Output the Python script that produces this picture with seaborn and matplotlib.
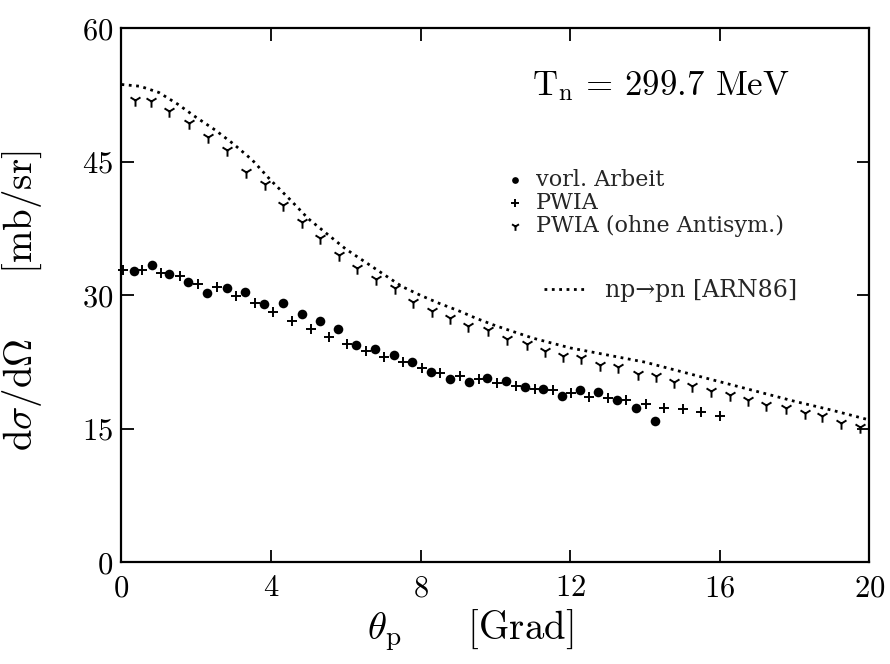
import matplotlib
matplotlib.use("Agg")
import matplotlib.pyplot as plt
import seaborn as sns

# ---- data ----
arbeit_x = [0.34, 0.81, 1.28, 1.79, 2.29, 2.81, 3.30, 3.82, 4.31, 4.82, 5.31, 5.80, 6.27, 6.79,
            7.29, 7.78, 8.28, 8.78, 9.28, 9.78, 10.28, 10.79, 11.28, 11.77, 12.26, 12.75, 13.24,
            13.76, 14.27]
arbeit_y = [32.75, 33.45, 32.35, 31.5, 30.3, 30.8, 30.4, 29.0, 29.2, 27.9, 27.1, 26.2, 24.4, 24.0,
            23.3, 22.5, 21.4, 20.6, 20.3, 20.7, 20.4, 19.7, 19.5, 18.65, 19.4, 19.2, 18.2,
            17.4, 15.85]

pwia_x = [0.03, 0.54, 1.05, 1.56, 2.05, 2.55, 3.06, 3.57, 4.06, 4.55, 5.06, 5.55, 6.04, 6.53,
          7.03, 7.54, 8.04, 8.53, 9.04, 9.55, 10.04, 10.56, 11.06, 11.54, 12.02, 12.51, 13.02,
          13.50, 14.02, 14.51, 15.02, 15.50, 16.0]
pwia_y = [32.9, 32.9, 32.5, 32.2, 31.3, 31.0, 29.9, 29.2, 28.1, 27.1, 26.2, 25.3, 24.5, 23.7,
          23.05, 22.5, 21.8, 21.3, 20.9, 20.6, 20.2, 19.85, 19.5, 19.4, 19.0, 18.6, 18.5,
          18.3, 17.8, 17.4, 17.2, 16.85, 16.5]

ohne_x = [0.36, 0.80, 1.28, 1.81, 2.31, 2.82, 3.33, 3.83, 4.33, 4.83, 5.32, 5.82, 6.31, 6.81,
          7.31, 7.80, 8.29, 8.78, 9.27, 9.81, 10.32, 10.83, 11.33, 11.81, 12.30, 12.80, 13.28,
          13.80, 14.28, 14.77, 15.26, 15.77, 16.26, 16.75, 17.24, 17.78, 18.27, 18.74, 19.25, 19.74]
ohne_y = [52.0, 51.9, 50.7, 49.4, 47.8, 46.35, 43.9, 42.5, 40.2, 38.2, 36.4, 34.5, 33.1, 31.8,
          30.8, 29.3, 28.3, 27.5, 26.6, 26.1, 25.1, 24.55, 23.8, 23.2, 23.0, 22.2, 22.0,
          21.2, 20.9, 20.3, 19.8, 19.3, 18.8, 18.2, 17.7, 17.3, 16.8, 16.45, 15.7, 15.2]

arn_x = [0, 0.5, 1, 1.5, 2, 2.5, 3, 3.5, 4, 4.5, 5, 5.5, 6, 6.5, 7, 7.5, 8, 8.5, 9, 9.5, 10,
         11, 12, 13, 14, 15, 16, 17, 18, 19, 20]
arn_y = [53.7, 53.5, 52.8, 51.5, 50.0, 48.6, 47.0, 45.2, 42.9, 40.8, 38.6, 36.9, 35.2, 33.8,
         32.4, 31.0, 30.0, 29.1, 28.3, 27.4, 26.6, 25.2, 24.1, 23.3, 22.5, 21.4, 20.3, 19.2,
         18.1, 17.1, 16.0]

x_ticks = [0, 4, 8, 12, 16, 20]
y_ticks = [0, 15, 30, 45, 60]

label_arbeit = "vorl. Arbeit"
label_pwia = "PWIA"
label_ohne = "PWIA (ohne Antisym.)"
label_arn = "np\u2192pn [ARN86]"

# ---- style ----
sns.set_theme(style="ticks")
plt.rcParams["font.family"] = ["cmr10", "DejaVu Serif"]
plt.rcParams["mathtext.fontset"] = "cm"
plt.rcParams["axes.formatter.use_mathtext"] = True
plt.rcParams["axes.unicode_minus"] = False

fig = plt.figure(figsize=(8.9, 6.64), dpi=100)
ax = fig.add_axes([0.1365, 0.153, 0.8404, 0.8042])

sns.lineplot(x=arn_x, y=arn_y, color="black", linestyle=":", linewidth=2.0,
             label=label_arn, ax=ax, clip_on=False)
sns.scatterplot(x=arbeit_x, y=arbeit_y, marker="o", s=48, color="black",
                edgecolor="black", linewidth=0, label=label_arbeit, ax=ax, clip_on=False, zorder=3)
sns.scatterplot(x=pwia_x, y=pwia_y, marker="+", s=60, color="black",
                linewidth=1.4, label=label_pwia, ax=ax, clip_on=False, zorder=3)
sns.scatterplot(x=ohne_x, y=ohne_y, marker="1", s=80, color="black",
                linewidth=1.4, label=label_ohne, ax=ax, clip_on=False, zorder=3)

ax.set_xlim(0, 20)
ax.set_ylim(0, 60)
ax.set_xticks(x_ticks)
ax.set_yticks(y_ticks)
ax.tick_params(direction="in", length=9, width=1.3, top=True, right=True,
               labelsize=22, colors="black")
ax.tick_params(axis="x", pad=9)
ax.tick_params(axis="y", pad=6)
for sp in ax.spines.values():
    sp.set_linewidth(1.6)
    sp.set_color("black")

ax.set_xlabel(r"$\theta_{\rm p}$     [Grad]", fontsize=28, color="black")
ax.xaxis.set_label_coords(0.466, -0.086)
ax.set_ylabel(r"d$\sigma$/d$\Omega$     [mb/sr]", fontsize=28, color="black")
ax.yaxis.set_label_coords(-0.104, 0.49)

ax.text(0.549, 0.876, r"T$_{\rm n}$ = 299.7 MeV", transform=ax.transAxes,
        fontsize=25, ha="left", va="baseline", color="black")

handles, labels = ax.get_legend_handles_labels()
hmap = dict(zip(labels, handles))

leg1 = ax.legend([hmap[label_arbeit], hmap[label_pwia], hmap[label_ohne]],
                 [label_arbeit, label_pwia, label_ohne],
                 loc="upper left", bbox_to_anchor=(0.518, 0.737), frameon=False,
                 prop={"family": "DejaVu Serif", "size": 16}, handlelength=0.55,
                 handletextpad=0.65, borderpad=0, borderaxespad=0, labelspacing=0.05,
                 markerscale=0.7)
ax.add_artist(leg1)
leg2 = ax.legend([hmap[label_arn]], [label_arn], loc="upper left",
                 bbox_to_anchor=(0.565, 0.530), frameon=False,
                 prop={"family": "DejaVu Serif", "size": 17}, handlelength=1.75,
                 handletextpad=0.85, borderpad=0, borderaxespad=0)

fig.savefig("out.png", dpi=100)
